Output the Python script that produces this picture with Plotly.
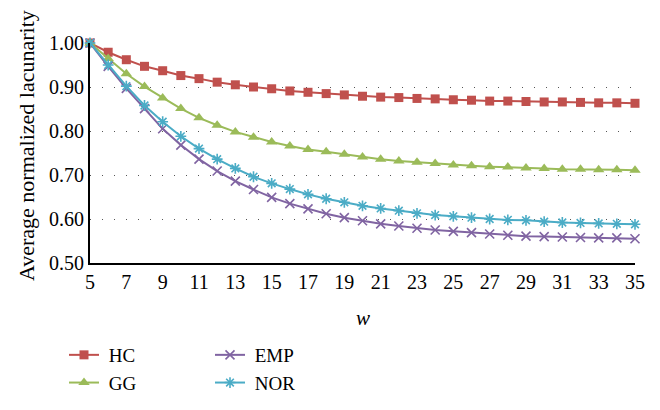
import plotly.graph_objects as go

w = list(range(5, 36))
HC = [1.000, 0.979, 0.962, 0.947, 0.937, 0.926, 0.919, 0.911, 0.905, 0.900,
      0.896, 0.891, 0.888, 0.885, 0.882, 0.879, 0.877, 0.876, 0.874, 0.873,
      0.871, 0.870, 0.868, 0.868, 0.867, 0.866, 0.866, 0.865, 0.864, 0.864, 0.863]
GG = [1.000, 0.965, 0.930, 0.901, 0.875, 0.851, 0.830, 0.813, 0.798, 0.786,
      0.775, 0.766, 0.758, 0.753, 0.747, 0.741, 0.736, 0.732, 0.729, 0.726,
      0.723, 0.721, 0.719, 0.718, 0.716, 0.715, 0.713, 0.713, 0.712, 0.712, 0.711]
EMP = [1.000, 0.947, 0.897, 0.851, 0.805, 0.768, 0.736, 0.709, 0.686, 0.667,
       0.649, 0.635, 0.623, 0.612, 0.603, 0.596, 0.589, 0.584, 0.579, 0.575,
       0.572, 0.569, 0.566, 0.563, 0.561, 0.560, 0.559, 0.558, 0.557, 0.557, 0.555]
NOR = [1.000, 0.950, 0.902, 0.858, 0.821, 0.788, 0.760, 0.736, 0.715, 0.696,
       0.681, 0.668, 0.656, 0.646, 0.638, 0.630, 0.624, 0.619, 0.613, 0.609,
       0.606, 0.603, 0.600, 0.598, 0.597, 0.594, 0.592, 0.591, 0.590, 0.589, 0.588]
y_ticks = [0.5, 0.6, 0.7, 0.8, 0.9, 1.0]
x_ticks = list(range(5, 36, 2))

FONT = "Liberation Serif, Times New Roman, DejaVu Serif, serif"
series = [
    ("HC", HC, "#C0504D", dict(symbol="square", size=9), "legend"),
    ("GG", GG, "#9BBB59", dict(symbol="triangle-up", size=10), "legend"),
    ("EMP", EMP, "#8064A2", dict(symbol="x-thin", size=9, line=dict(width=1.6, color="#8064A2")), "legend2"),
    ("NOR", NOR, "#4BACC6", dict(symbol="asterisk", size=9, line=dict(width=1.6, color="#4BACC6")), "legend2"),
]

fig = go.Figure()
for name, vals, color, mk, lg in series:
    fig.add_trace(go.Scatter(
        x=w, y=vals, name="\u00a0" + name, mode="lines+markers",
        line=dict(color=color, width=2),
        marker=dict(color=color, **mk),
        legend=lg, cliponaxis=False,
    ))

PH = 220.0
PW = 545.0
leg_common = dict(orientation="v", yanchor="top", xanchor="left",
                  font=dict(size=19, family=FONT), bgcolor="rgba(0,0,0,0)",
                  tracegroupgap=0)
fig.update_layout(
    width=660, height=410,
    margin=dict(l=90, r=25, t=43, b=147, autoexpand=False),
    plot_bgcolor="white", paper_bgcolor="white",
    font=dict(family=FONT, size=20, color="black"),
    showlegend=True,
    legend=dict(x=(64 - 90) / PW, y=(263 - 336) / PH, **leg_common),
    legend2=dict(x=(210 - 90) / PW, y=(263 - 336) / PH, **leg_common),
    xaxis=dict(range=[5, 35], tickvals=x_ticks, showgrid=False, showline=True,
               linecolor="black", linewidth=2, ticks="", zeroline=False, automargin=False,
               tickfont=dict(size=20, family=FONT)),
    yaxis=dict(range=[0.5, 1.0], tickvals=y_ticks, tickformat=".2f", showgrid=True,
               gridcolor="#555555", gridwidth=1, griddash="1px,11px", automargin=False,
               showline=True, linecolor="black", linewidth=2, ticks="", zeroline=False,
               tickfont=dict(size=20, family=FONT)),
    annotations=[
        dict(text="<i>w</i>", xref="paper", yref="paper", x=0.5, y=(263 - 318) / PH,
             xanchor="center", yanchor="middle", showarrow=False,
             font=dict(size=21, family=FONT)),
        dict(text="Average normalized lacunarity", xref="paper", yref="paper",
             x=(26 - 90) / PW, y=(263 - 146) / PH, xanchor="center", yanchor="middle",
             textangle=-90, showarrow=False, font=dict(size=22, family=FONT)),
    ],
)

fig.write_html("out.html", config={"displayModeBar": False},
               post_script="document.body.style.margin='0';document.body.style.padding='0';")
